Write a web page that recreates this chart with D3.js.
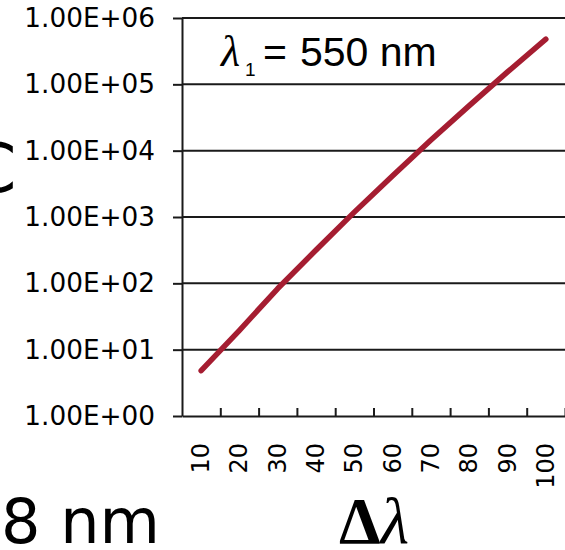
<!DOCTYPE html>
<html>
<head>
<meta charset="utf-8">
<script src="https://cdn.jsdelivr.net/npm/d3@7"></script>
<style>
  html, body { margin: 0; padding: 0; background: #fff; }
  svg { display: block; }
</style>
</head>
<body>
<svg id="chart" width="565" height="550"></svg>
<script>
// ---- data ----
const categories = ["10", "20", "30", "40", "50", "60", "70", "80", "90", "100"];
const values = [4.82, 19.6, 83.4, 318, 1186, 4190, 14500, 47800, 154000, 479000];
const yTickValues = [1, 10, 100, 1000, 10000, 100000, 1000000];
const yTickLabels = ["1.00E+00", "1.00E+01", "1.00E+02", "1.00E+03", "1.00E+04", "1.00E+05", "1.00E+06"];

const svg = d3.select("#chart");
const plotLeft = 182, plotRight = 565, plotTop = 18, plotBottom = 416;

const x = d3.scaleBand().domain(categories).range([plotLeft, plotRight]).padding(0);
const xb = d3.scaleLinear().domain([0, categories.length]).range([plotLeft, plotRight]);
const y = d3.scaleLog().domain([1, 1e6]).range([plotBottom, plotTop]);

// gridlines
svg.append("g")
  .selectAll("line")
  .data(yTickValues.slice(1))
  .join("line")
  .attr("x1", plotLeft).attr("x2", plotRight)
  .attr("y1", d => y(d)).attr("y2", d => y(d))
  .attr("stroke", "#1a1a1a").attr("stroke-width", 2);

// y axis
const yAxis = svg.append("g")
  .attr("transform", `translate(${plotLeft},0)`)
  .call(d3.axisLeft(y)
    .tickValues(yTickValues)
    .tickFormat((d, i) => yTickLabels[i])
    .tickSizeInner(9).tickSizeOuter(0).tickPadding(18));
yAxis.select(".domain").attr("stroke", "#1a1a1a").attr("stroke-width", 2);
yAxis.selectAll(".tick line").attr("stroke", "#1a1a1a").attr("stroke-width", 2);
yAxis.selectAll(".tick text")
  .attr("font-family", "'DejaVu Sans', Verdana, sans-serif")
  .attr("font-size", 26.3).attr("fill", "#000");

// x axis (boundary ticks, pointing up)
const xAxis = svg.append("g")
  .attr("transform", `translate(0,${plotBottom})`)
  .call(d3.axisBottom(xb).tickValues(d3.range(1, categories.length + 1))
    .tickSizeInner(-8).tickSizeOuter(0).tickFormat(""));
xAxis.select(".domain").attr("stroke", "#1a1a1a").attr("stroke-width", 2);
xAxis.selectAll(".tick line").attr("stroke", "#1a1a1a").attr("stroke-width", 2);

// x labels (rotated)
const xLab = svg.append("g")
  .attr("transform", `translate(0,${plotBottom})`)
  .call(d3.axisBottom(x).tickSize(0).tickPadding(0));
xLab.select(".domain").remove();
xLab.selectAll(".tick text")
  .attr("font-family", "'DejaVu Sans', Verdana, sans-serif")
  .attr("font-size", 24).attr("fill", "#000")
  .attr("text-anchor", "end")
  .attr("dy", null)
  .attr("y", 0)
  .attr("dominant-baseline", "central")
  .attr("transform", "translate(0,27) rotate(-90)");

// series line
const line = d3.line()
  .x((d, i) => x(categories[i]) + x.bandwidth() / 2)
  .y(d => y(d));
svg.append("path")
  .datum(values)
  .attr("d", line)
  .attr("fill", "none")
  .attr("stroke", "#a51d31")
  .attr("stroke-width", 5.5)
  .attr("stroke-linecap", "round")
  .attr("stroke-linejoin", "round");

// annotation λ1 = 550 nm
const ann = svg.append("g");
ann.append("text").attr("x", 221).attr("y", 66)
  .attr("font-family", "'Liberation Serif', serif").attr("font-style", "italic")
  .attr("font-size", 44).text("λ");
ann.append("text").attr("x", 245).attr("y", 76)
  .attr("font-family", "'Liberation Sans', Arial, sans-serif")
  .attr("font-size", 19).text("1");
ann.append("text").attr("x", 263).attr("y", 66)
  .attr("font-family", "'Liberation Sans', Arial, sans-serif")
  .attr("font-size", 41).text("=");
ann.append("text").attr("x", 300).attr("y", 66)
  .attr("font-family", "'Liberation Sans', Arial, sans-serif")
  .attr("font-size", 41).text("550 nm");

// x axis title Δλ
const xt = svg.append("text").attr("x", 339).attr("y", 543)
  .attr("font-family", "'Liberation Serif', 'Times New Roman', serif")
  .attr("font-size", 66);
xt.append("tspan").attr("font-weight", "bold").text("Δ");
xt.append("tspan").attr("font-style", "italic").text("λ");

// cut-off neighbouring texts
svg.append("text").attr("x", -31).attr("y", 192)
  .attr("font-family", "'DejaVu Sans', Verdana, sans-serif")
  .attr("font-size", 68).text("C");
svg.append("text").attr("x", 1).attr("y", 543)
  .attr("font-family", "'DejaVu Sans', Verdana, sans-serif")
  .attr("font-size", 62).text("8 nm");
</script>
</body>
</html>
